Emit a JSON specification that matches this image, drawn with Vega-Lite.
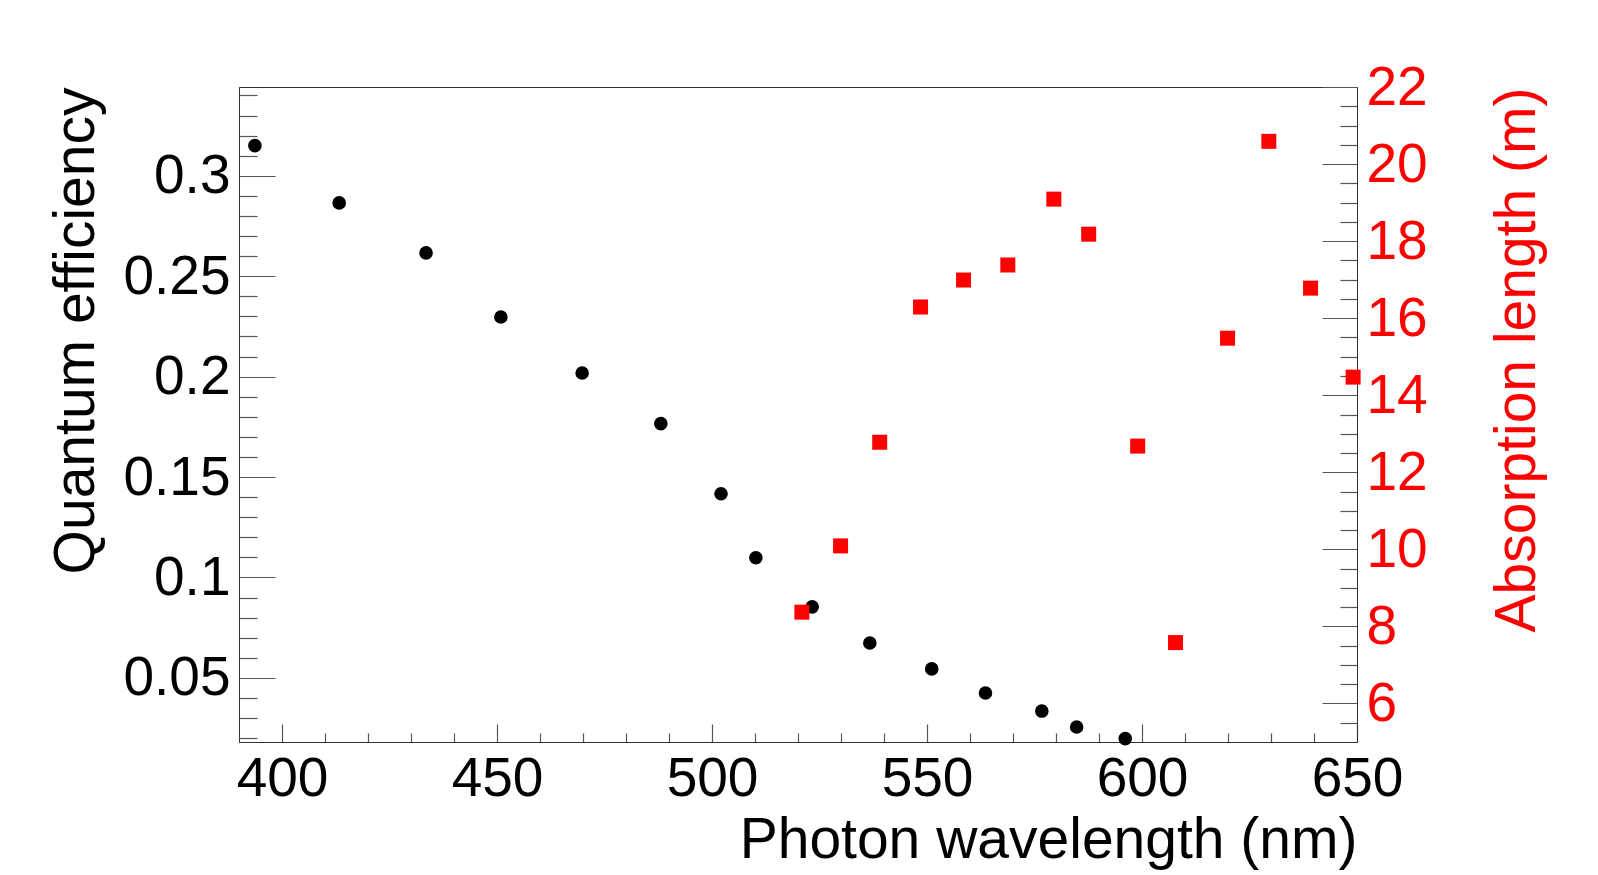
{
  "$schema": "https://vega.github.io/schema/vega-lite/v6.json",
  "width": 1118,
  "height": 655,
  "autosize": {"type": "none"},
  "padding": {"left": 239, "top": 87, "right": 241, "bottom": 133},
  "background": "white",
  "config": {
    "font": "Liberation Sans",
    "view": {"stroke": "#333", "strokeWidth": 1},
    "axis": {
      "grid": false,
      "domainColor": "#333",
      "domainWidth": 1,
      "tickColor": "#555",
      "tickWidth": 1.2,
      "labelFont": "Liberation Sans",
      "labelFontSize": 55,
      "labelColor": "black",
      "labelOverlap": false,
      "labelFlush": false,
      "titleFont": "Liberation Sans",
      "titleFontSize": 57,
      "titleFontWeight": "normal",
      "titleColor": "black"
    }
  },
  "datasets": {
    "qe": [
      {"wavelength": 393.7, "qe": 0.315},
      {"wavelength": 413.3, "qe": 0.2865},
      {"wavelength": 433.5, "qe": 0.2616},
      {"wavelength": 450.9, "qe": 0.2297},
      {"wavelength": 469.8, "qe": 0.2018},
      {"wavelength": 488.1, "qe": 0.1766},
      {"wavelength": 502.1, "qe": 0.1417},
      {"wavelength": 510.2, "qe": 0.1098},
      {"wavelength": 523.3, "qe": 0.0854},
      {"wavelength": 536.7, "qe": 0.0674},
      {"wavelength": 551.1, "qe": 0.0545},
      {"wavelength": 563.6, "qe": 0.0425},
      {"wavelength": 576.7, "qe": 0.0335},
      {"wavelength": 584.8, "qe": 0.0256},
      {"wavelength": 596.1, "qe": 0.0198}
    ],
    "absorption": [
      {"wavelength": 520.9, "length": 8.37},
      {"wavelength": 529.9, "length": 10.09},
      {"wavelength": 539.0, "length": 12.78},
      {"wavelength": 548.5, "length": 16.29},
      {"wavelength": 558.5, "length": 16.99},
      {"wavelength": 568.8, "length": 17.38},
      {"wavelength": 579.5, "length": 19.09},
      {"wavelength": 587.6, "length": 18.18},
      {"wavelength": 599.0, "length": 12.68},
      {"wavelength": 607.8, "length": 7.58},
      {"wavelength": 619.9, "length": 15.48},
      {"wavelength": 629.5, "length": 20.59},
      {"wavelength": 639.2, "length": 16.78},
      {"wavelength": 649.1, "length": 14.47}
    ]
  },
  "encoding": {
    "x": {
      "field": "wavelength",
      "type": "quantitative",
      "scale": {"domain": [390, 650], "nice": false, "zero": false},
      "axis": {
        "title": "Photon wavelength (nm)",
        "values": [400,410,420,430,440,450,460,470,480,490,500,510,520,530,540,550,560,570,580,590,600,610,620,630,640,650],
        "labelExpr": "datum.value % 50 === 0 ? format(datum.value, 'd') : ''",
        "tickSize": {"condition": {"test": "datum.value % 50 === 0", "value": -18}, "value": -9},
        "labelPadding": 28,
        "titleAnchor": "end",
        "titleAlign": "right",
        "titleBaseline": "alphabetic",
        "titleX": 1118,
        "titleY": 115
      }
    }
  },
  "layer": [
    {
      "data": {"name": "qe"},
      "mark": {"type": "circle", "color": "black", "size": 185, "opacity": 1, "clip": false},
      "encoding": {
        "y": {
          "field": "qe",
          "type": "quantitative",
          "scale": {"domain": [0.0181, 0.3442], "nice": false, "zero": false},
          "axis": {
            "orient": "left",
            "title": "Quantum efficiency",
            "values": [0.02,0.03,0.04,0.05,0.06,0.07,0.08,0.09,0.1,0.11,0.12,0.13,0.14,0.15,0.16,0.17,0.18,0.19,0.2,0.21,0.22,0.23,0.24,0.25,0.26,0.27,0.28,0.29,0.3,0.31,0.32,0.33,0.34],
            "labelExpr": "round(datum.value * 100) % 5 === 0 ? format(datum.value, '~r') : ''",
            "tickSize": {"condition": {"test": "round(datum.value * 100) % 5 === 0", "value": -36}, "value": -18},
            "labelPadding": 45,
            "titleAngle": 270,
            "titleAnchor": "end",
            "titleAlign": "right",
            "titleBaseline": "alphabetic",
            "titleX": -146,
            "titleY": 0
          }
        }
      }
    },
    {
      "data": {"name": "absorption"},
      "mark": {"type": "square", "color": "#ff0000", "size": 225, "opacity": 1, "clip": false},
      "encoding": {
        "y": {
          "field": "length",
          "type": "quantitative",
          "scale": {"domain": [5, 22], "nice": false, "zero": false},
          "axis": {
            "orient": "right",
            "title": "Absorption length (m)",
            "values": [5.5,6,6.5,7,7.5,8,8.5,9,9.5,10,10.5,11,11.5,12,12.5,13,13.5,14,14.5,15,15.5,16,16.5,17,17.5,18,18.5,19,19.5,20,20.5,21,21.5,22],
            "labelExpr": "datum.value % 2 === 0 ? format(datum.value, 'd') : ''",
            "tickSize": {"condition": {"test": "datum.value % 2 === 0", "value": -35}, "value": -17},
            "labelPadding": 44,
            "labelColor": "#ff0000",
            "titleColor": "#ff0000",
            "titleAngle": 270,
            "titleAnchor": "end",
            "titleAlign": "right",
            "titleBaseline": "alphabetic",
            "titleX": 177,
            "titleY": 0
          }
        }
      }
    }
  ],
  "resolve": {"scale": {"y": "independent"}, "axis": {"y": "independent"}}
}
